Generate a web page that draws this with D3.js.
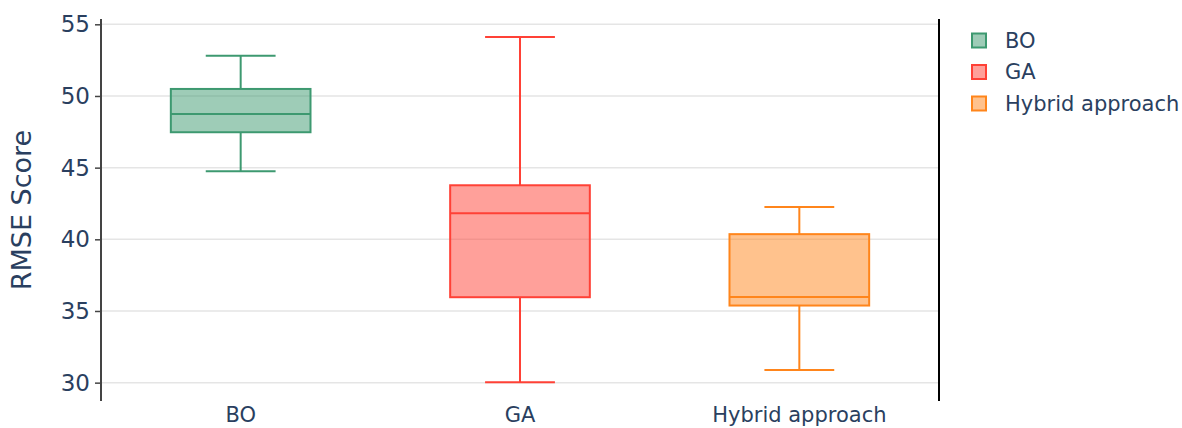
<!DOCTYPE html>
<html>
<head>
<meta charset="utf-8">
<script src="https://cdn.jsdelivr.net/npm/d3@7"></script>
<style>
  body { margin: 0; background: #fff; }
  svg text { font-family: "DejaVu Sans", Verdana, sans-serif; fill: #2a3f5f; }
</style>
</head>
<body>
<div id="chart"></div>
<script>
// values
const methods = ['BO', 'GA', 'Hybrid approach'];
const lowerWhisker = [44.75, 30.03, 30.89];
const q1 = [47.47, 35.96, 35.38];
const median = [48.74, 41.82, 35.98];
const q3 = [50.49, 43.77, 40.36];
const upperWhisker = [52.81, 54.11, 42.26];
const colors = ['#3D9970', '#FF4136', '#FF851B'];
const yTicks = [30, 35, 40, 45, 50, 55];

const W = 1182, H = 428;
const plot = { left: 101, right: 939, top: 19, bottom: 401 };

const svg = d3.select('#chart').append('svg')
    .attr('width', W)
    .attr('height', H);

svg.append('rect').attr('width', W).attr('height', H).attr('fill', '#fff');

const x = d3.scaleBand().domain(methods).range([plot.left, plot.right]).padding(0);
const y = d3.scaleLinear().domain([28.72, 55.37]).range([plot.bottom, plot.top]);

// grid
svg.append('g')
    .selectAll('line')
    .data(yTicks)
    .enter().append('line')
    .attr('x1', plot.left).attr('x2', plot.right)
    .attr('y1', d => y(d)).attr('y2', d => y(d))
    .attr('stroke', '#e5e5e5')
    .attr('stroke-width', 1.5);

// y axis
const yAxis = svg.append('g')
    .attr('transform', `translate(${plot.left},0)`)
    .call(d3.axisLeft(y).tickValues(yTicks).tickSize(6).tickPadding(5));
yAxis.select('.domain').remove();
yAxis.selectAll('.tick line').attr('stroke', '#444').attr('stroke-width', 1.5);
yAxis.selectAll('.tick text').style('font-size', '23px').attr('fill', '#2a3f5f');

svg.append('line')
    .attr('x1', plot.left).attr('x2', plot.left)
    .attr('y1', plot.top).attr('y2', plot.bottom)
    .attr('stroke', '#444').attr('stroke-width', 2);
svg.append('line')
    .attr('x1', plot.right).attr('x2', plot.right)
    .attr('y1', plot.top).attr('y2', plot.bottom)
    .attr('stroke', '#000').attr('stroke-width', 2);

// x axis labels
const xAxis = svg.append('g')
    .attr('transform', `translate(0,${plot.bottom})`)
    .call(d3.axisBottom(x).tickSize(0).tickPadding(6));
xAxis.select('.domain').remove();
xAxis.selectAll('.tick text').style('font-size', '21px').attr('fill', '#2a3f5f');

svg.append('text')
    .attr('transform', `translate(31,${(plot.top + plot.bottom) / 2}) rotate(-90)`)
    .attr('text-anchor', 'middle')
    .style('font-size', '27px')
    .text('RMSE Score');

// boxes
const rows = methods.map((m, i) => ({
    m, lo: lowerWhisker[i], q1: q1[i], med: median[i], q3: q3[i], hi: upperWhisker[i], c: colors[i]
}));
const boxW = x.bandwidth() * 0.5;
const capW = boxW * 0.5;

const g = svg.append('g').selectAll('g')
    .data(rows)
    .enter().append('g')
    .attr('transform', d => `translate(${x(d.m) + x.bandwidth() / 2},0)`);

g.append('line')
    .attr('x1', 0).attr('x2', 0)
    .attr('y1', d => y(d.hi)).attr('y2', d => y(d.q3))
    .attr('stroke', d => d.c).attr('stroke-width', 2);
g.append('line')
    .attr('x1', 0).attr('x2', 0)
    .attr('y1', d => y(d.q1)).attr('y2', d => y(d.lo))
    .attr('stroke', d => d.c).attr('stroke-width', 2);
g.append('line')
    .attr('x1', -capW / 2).attr('x2', capW / 2)
    .attr('y1', d => y(d.hi)).attr('y2', d => y(d.hi))
    .attr('stroke', d => d.c).attr('stroke-width', 2);
g.append('line')
    .attr('x1', -capW / 2).attr('x2', capW / 2)
    .attr('y1', d => y(d.lo)).attr('y2', d => y(d.lo))
    .attr('stroke', d => d.c).attr('stroke-width', 2);
g.append('rect')
    .attr('x', -boxW / 2).attr('width', boxW)
    .attr('y', d => y(d.q3)).attr('height', d => y(d.q1) - y(d.q3))
    .attr('fill', d => d.c).attr('fill-opacity', 0.5)
    .attr('stroke', d => d.c).attr('stroke-width', 2);
g.append('line')
    .attr('x1', -boxW / 2).attr('x2', boxW / 2)
    .attr('y1', d => y(d.med)).attr('y2', d => y(d.med))
    .attr('stroke', d => d.c).attr('stroke-width', 2);

// legend
const legend = svg.append('g').selectAll('g')
    .data(rows)
    .enter().append('g')
    .attr('transform', (d, i) => `translate(972,${40.5 + i * 31.5})`);
legend.append('rect')
    .attr('x', 0).attr('y', -7).attr('width', 14).attr('height', 14)
    .attr('fill', d => d.c).attr('fill-opacity', 0.5)
    .attr('stroke', d => d.c).attr('stroke-width', 2);
legend.append('text')
    .attr('x', 33).attr('dy', '0.35em')
    .style('font-size', '21px')
    .text(d => d.m);
</script>
</body>
</html>
